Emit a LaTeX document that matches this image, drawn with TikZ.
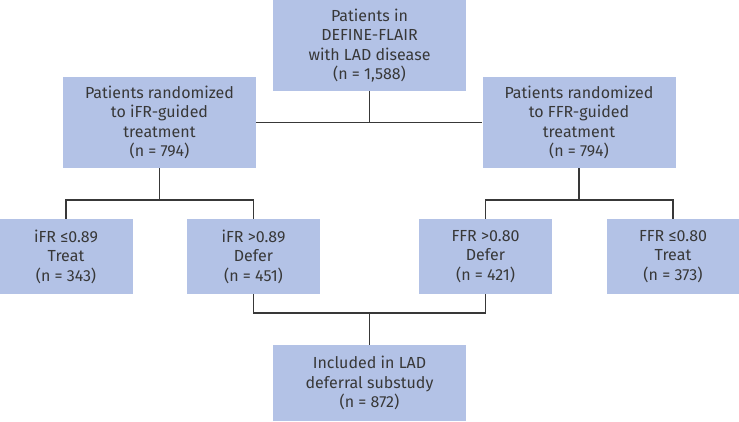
\documentclass[tikz,border=0pt]{standalone}
\usepackage{fontspec}
\setmainfont{Fira Sans}
\usepackage{tikz}
\definecolor{boxblue}{HTML}{B3C2E6}
\definecolor{inkgray}{HTML}{383838}
\tikzset{
	flowbox/.style={fill=boxblue, text=inkgray, align=center, inner sep=0pt,
		font=\fontsize{16}{19.5}\selectfont},
	widebox/.style={flowbox, minimum width=193pt, minimum height=91pt},
	smallbox/.style={flowbox, minimum width=133pt, minimum height=75pt},
	link/.style={draw=inkgray, line width=1.6pt}
}

\begin{document}
\begin{tikzpicture}[x=1pt, y=-1pt]
		\useasboundingbox (0,0) rectangle (739,421);
		% enrolment and randomization
		\node[widebox] (all) at (369.5,45.5) {Patients in\\DEFINE-FLAIR\\with LAD disease\\(n = 1,588)};
		\node[widebox] (ifr) at (159.5,122.5) {Patients randomized\\to iFR-guided\\treatment\\(n = 794)};
		\node[widebox] (ffr) at (579,122.5) {Patients randomized\\to FFR-guided\\treatment\\(n = 794)};
		% physiology cut-offs
		\node[smallbox] (ifrT) at (66,256.5) {iFR ≤0.89\\Treat\\(n = 343)};
		\node[smallbox] (ifrD) at (253.5,256.5) {iFR >0.89\\Defer\\(n = 451)};
		\node[smallbox] (ffrD) at (485.5,256.5) {FFR >0.80\\Defer\\(n = 421)};
		\node[smallbox] (ffrT) at (673,256.5) {FFR ≤0.80\\Treat\\(n = 373)};
		% substudy
		\node[smallbox, minimum width=193pt, minimum height=76pt] (sub) at (369.5,383) {Included in LAD\\deferral substudy\\(n = 872)};
		
		\coordinate (ifrJ) at (159.5,200);
		\coordinate (ffrJ) at (579,200);
		\coordinate (subJ) at (369.5,313);
		
		\path[link]
		(ifr.east) edge (ffr.west)
		(all.south) edge (all.south |- ifr.east)
		(ifr.south) edge (ifrJ)
		(ffr.south) edge (ffrJ)
		(sub.north) edge (subJ);
		\draw[link] (ifrT.north) |- (ifrJ) -| (ifrD.north);
		\draw[link] (ffrD.north) |- (ffrJ) -| (ffrT.north);
		\draw[link] (ifrD.south) |- (subJ) -| (ffrD.south);
		
\end{tikzpicture}
\end{document}
